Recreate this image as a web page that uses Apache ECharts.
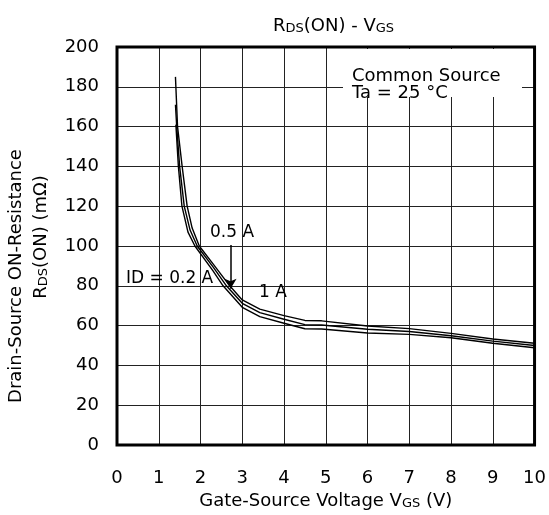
<!DOCTYPE html>
<html>
<head>
<meta charset="utf-8">
<script src="https://cdn.jsdelivr.net/npm/echarts@6/dist/echarts.min.js"></script>
<style>html,body{margin:0;padding:0;background:#fff}#c{width:549px;height:515px}</style>
</head>
<body>
<div id="c"></div>
<script>
// X axis ticks (V) and Y axis ticks (mΩ)
const xTicks = [0, 1, 2, 3, 4, 5, 6, 7, 8, 9, 10];
const yTicks = [0, 20, 40, 60, 80, 100, 120, 140, 160, 180, 200];

// ID = 1 A
const vgs1A = [1.40, 1.45, 1.56, 1.68, 1.80, 1.97, 2.30, 2.70, 3.00, 3.42, 4.00, 4.50, 4.90, 6.00, 7.00, 8.00, 9.00, 10.00];
const rds1A = [185, 160, 140, 120, 109, 100, 91, 80, 72.9, 68.3, 65, 62.6, 62.4, 59.8, 58.5, 56.1, 53.3, 51.1];
// ID = 0.5 A
const vgs05A = [1.40, 1.43, 1.50, 1.61, 1.75, 1.92, 2.30, 2.62, 3.00, 3.42, 4.00, 4.50, 4.90, 6.00, 7.00, 8.00, 9.00, 10.00];
const rds05A = [171, 160, 140, 120, 108, 100, 89.5, 80, 71.2, 66.5, 63.2, 60.5, 60.3, 58.2, 57, 54.9, 52.2, 50];
// ID = 0.2 A
const vgs02A = [1.41, 1.47, 1.555, 1.70, 1.866, 2.30, 2.54, 3.00, 3.42, 4.00, 4.50, 4.90, 6.00, 7.00, 8.00, 9.00, 10.00];
const rds02A = [161, 140, 120, 107, 100, 87.5, 80, 69.2, 64.5, 61.2, 58.4, 58.3, 56.3, 55.6, 53.9, 51.1, 48.9];

// arrow for the 0.5 A label
const arrowV = 2.72;
const arrowFrom = 100.5;
const arrowTo = 78.5;

const FONT = 'DejaVu Sans';
const zip = (xs, ys) => xs.map((x, i) => [x, ys[i]]);

const chart = echarts.init(document.getElementById('c'), null, {renderer: 'canvas'});
const lineSeries = (name, xs, ys) => ({
  name, type: 'line', data: zip(xs, ys), showSymbol: false, symbol: 'none',
  lineStyle: {color: '#000', width: 1.4, join: 'round'}, z: 5, silent: true, animation: false
});
const s05 = lineSeries('0.5 A', vgs05A, rds05A);
s05.markLine = {
  silent: true, symbol: ['none', 'arrow'], symbolSize: [9, 10],
  lineStyle: {color: '#000', width: 1.5, type: 'solid'}, label: {show: false},
  data: [[{coord: [arrowV, arrowFrom]}, {coord: [arrowV, arrowTo]}]]
};

const sub = (size) => ({fontFamily: FONT, fontSize: size, fontWeight: 'normal', color: '#000', verticalAlign: 'bottom', lineHeight: 20});

chart.setOption({
  animation: false,
  backgroundColor: '#fff',
  title: {
    text: '{a|R}{b|DS}{a|(ON) - V}{b|GS}',
    left: 268, top: 10,
    textStyle: {fontWeight: 'normal', rich: {a: sub(18), b: sub(13)}}
  },
  grid: {left: 117, right: 14, top: 47, bottom: 70, show: true, borderColor: '#000', borderWidth: 3, backgroundColor: 'transparent', z: 10},
  xAxis: {
    type: 'value', min: xTicks[0], max: xTicks[xTicks.length - 1], interval: 1,
    axisLine: {show: false}, axisTick: {show: false},
    splitLine: {show: true, lineStyle: {color: '#222', width: 1}},
    axisLabel: {fontFamily: FONT, fontSize: 18, color: '#000', margin: 24},
    name: '{a|Gate-Source Voltage V}{b|GS}{a| (V)}',
    nameLocation: 'middle', nameGap: 45,
    nameTextStyle: {rich: {a: sub(18), b: sub(13)}}
  },
  yAxis: {
    type: 'value', min: yTicks[0], max: yTicks[yTicks.length - 1], interval: 20,
    axisLine: {show: false}, axisTick: {show: false},
    splitLine: {show: true, lineStyle: {color: '#222', width: 1}},
    axisLabel: {fontFamily: FONT, fontSize: 18, color: '#000', margin: 18}
  },
  series: [lineSeries('1 A', vgs1A, rds1A), s05, lineSeries('0.2 A', vgs02A, rds02A)],
  graphic: [
    {type: 'rect', shape: {x: 343, y: 49, width: 179, height: 48}, style: {fill: '#fff'}, z: 20},
    {type: 'text', x: 352, y: 76, z: 21, style: {text: 'Common Source', font: '18px "DejaVu Sans"', fill: '#000', verticalAlign: 'middle'}},
    {type: 'text', x: 352, y: 93, z: 21, style: {text: 'Ta = 25 °C', font: '18px "DejaVu Sans"', fill: '#000', verticalAlign: 'middle'}},
    {type: 'text', x: 126, y: 279, z: 21, style: {text: 'ID = 0.2 A', font: '17px "DejaVu Sans"', fill: '#000', verticalAlign: 'middle'}},
    {type: 'text', x: 210, y: 233, z: 21, style: {text: '0.5 A', font: '17px "DejaVu Sans"', fill: '#000', verticalAlign: 'middle'}},
    {type: 'text', x: 259, y: 293, z: 21, style: {text: '1 A', font: '17px "DejaVu Sans"', fill: '#000', verticalAlign: 'middle'}},
    {type: 'text', x: 16, y: 276, rotation: Math.PI / 2, z: 21, style: {text: 'Drain-Source ON-Resistance', font: '18px "DejaVu Sans"', fill: '#000', align: 'center', verticalAlign: 'middle'}},
    {type: 'text', x: 40, y: 237, rotation: Math.PI / 2, z: 21, style: {text: '{a|R}{b|DS}{a|(ON) (mΩ)}', rich: {a: sub(18), b: sub(13)}, align: 'center', verticalAlign: 'middle'}}
  ]
});
</script>
</body>
</html>
